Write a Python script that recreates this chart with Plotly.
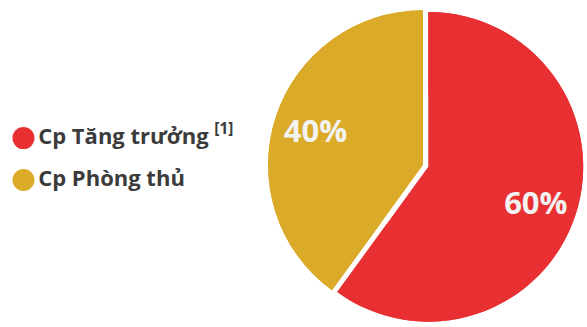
import plotly.graph_objects as go

labels = ["Cp Tăng trưởng", "Cp Phòng thủ"]
legend_text = ["Cp Tăng trưởng <sup>[1]</sup>", "Cp Phòng thủ"]
values = [60, 40]
colors = ["#E83033", "#DBAA29"]
pulls = [0.036, 0]

pie_domain = dict(x=[0.4466, 0.9946], y=[0.0046, 0.986])

fig = go.Figure()

# full pie (fills the disc)
fig.add_trace(go.Pie(
    labels=labels,
    values=values,
    sort=False,
    direction="clockwise",
    rotation=0,
    pull=pulls,
    marker=dict(colors=colors, line=dict(width=0)),
    textinfo="none",
    domain=pie_domain,
    showlegend=False,
    hoverinfo="skip",
))

# same pie as a ring on top, carrying the percent labels further out
fig.add_trace(go.Pie(
    labels=labels,
    values=values,
    sort=False,
    direction="clockwise",
    rotation=0,
    pull=pulls,
    hole=0.46,
    marker=dict(colors=colors, line=dict(width=0)),
    textinfo="percent",
    texttemplate="%{percent:.0%}",
    textposition="inside",
    insidetextorientation="horizontal",
    textfont=dict(family="Open Sans", size=31, color="#F2F2F2", weight="bold"),
    domain=pie_domain,
    showlegend=False,
    hoverinfo="skip",
))

fig.add_trace(go.Scatter(
    x=[0] * len(labels),
    y=labels,
    mode="markers+text",
    marker=dict(color=colors, size=22, symbol="circle"),
    text=legend_text,
    textposition="middle right",
    textfont=dict(family="Open Sans", size=22, color="#3B3B3B", weight="bold"),
    showlegend=False,
    hoverinfo="skip",
    cliponaxis=False,
))

fig.update_layout(
    width=587,
    height=327,
    margin=dict(l=0, r=0, t=0, b=0),
    paper_bgcolor="white",
    plot_bgcolor="white",
    xaxis=dict(domain=[0, 0.4], range=[-1, 9], visible=False, fixedrange=True),
    yaxis=dict(domain=[0, 1], type="category", categoryarray=labels,
               range=[4.50, -3.29], visible=False, fixedrange=True),
)

fig.write_html("out.html")
